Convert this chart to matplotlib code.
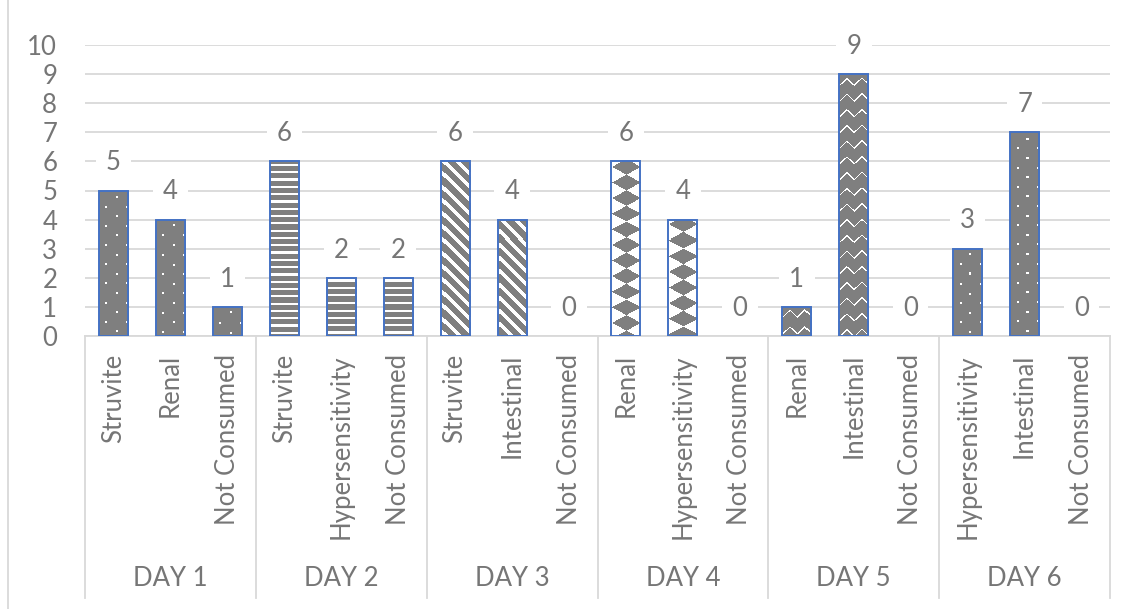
import numpy as np
import matplotlib.pyplot as plt
from matplotlib.transforms import IdentityTransform
from matplotlib.lines import Line2D

# chart data
days = ['DAY 1', 'DAY 2', 'DAY 3', 'DAY 4', 'DAY 5', 'DAY 6']
diets = [['Struvite', 'Renal', 'Not Consumed'],
         ['Struvite', 'Hypersensitivity', 'Not Consumed'],
         ['Struvite', 'Intestinal', 'Not Consumed'],
         ['Renal', 'Hypersensitivity', 'Not Consumed'],
         ['Renal', 'Intestinal', 'Not Consumed'],
         ['Hypersensitivity', 'Intestinal', 'Not Consumed']]
counts = [[5, 4, 1], [6, 2, 2], [6, 4, 0], [6, 4, 0], [1, 9, 0], [3, 7, 0]]
day_patterns = ['dots', 'hlines', 'diag', 'diamond', 'wave', 'dots']

W, H = 1141, 609
FONT = 'Lato'
FS = 18.5
TXT = '#767676'
GRID = '#d9d9d9'
BAR = 127
EDGE = '#4472c4'

plt.rcParams['font.family'] = [FONT, 'DejaVu Sans']


# fill patterns, x/y in pixels from the bar's top-left corner
def pat_dots(x, y):
    u = x - 6
    v = y - 5
    iu = np.floor(u / 9.6)
    iv = np.floor(v / 9.6)
    return ((u - iu * 9.6) < 2) & ((v - iv * 9.6) < 2) & ((iu + iv) % 2 == 1)


def pat_hlines(x, y):
    return ((y - 2) % 7.3) < 2.2


def pat_diag(x, y):
    return ((x - y) % 13.2) < 5


def pat_diamond(x, y):
    p = (x - 14.5) / 14.5
    q = (y - 5) / 7.8
    r1 = (p + q) / 2
    r2 = (p - q) / 2
    return (np.floor(r1 + 0.5) + np.floor(r2 + 0.5)) % 2 == 1


def pat_wave(x, y):
    tri = np.abs(((x / 14.5) % 1) - 0.5) * 2
    d = (y - 3 - 7 * tri) % 15.7
    return d < 1.6


patterns = {'dots': pat_dots, 'hlines': pat_hlines, 'diag': pat_diag,
            'diamond': pat_diamond, 'wave': pat_wave}

labels = [d for grp in diets for d in grp]
values = [v for grp in counts for v in grp]
bar_pat = [day_patterns[g] for g, grp in enumerate(counts) for _ in grp]
xpos = np.arange(len(values))

fig = plt.figure(figsize=(W / 100, H / 100), dpi=100)
ax = fig.add_axes([85 / W, 1 - 336 / H, (1110 - 85) / W, (336 - 45) / H])

bars = ax.bar(xpos, values, width=0.51, color=(BAR / 255,) * 3, linewidth=0, zorder=2)
ax.bar(xpos, values, width=0.51, fill=False, linewidth=1.4, zorder=4,
       edgecolor=[EDGE if v > 0 else 'none' for v in values])
ax.set_xlim(-0.5, len(values) - 0.5)
ax.set_ylim(0, 10)
ax.set_yticks(range(0, 11))
ax.yaxis.grid(True, color=GRID, linewidth=1.3)
ax.set_axisbelow(True)
for s in ['top', 'right', 'left']:
    ax.spines[s].set_visible(False)
ax.spines['bottom'].set_color(GRID)
ax.spines['bottom'].set_linewidth(1.3)
ax.tick_params(axis='y', length=0, pad=20, labelsize=FS, labelcolor=TXT)
ax.set_xticks(xpos)
ax.set_xticklabels(labels, rotation=90)
ax.tick_params(axis='x', length=0, pad=13, labelsize=FS, labelcolor=TXT)

# pattern textures clipped to each bar
for rect, pat, v in zip(bars, bar_pat, values):
    if v <= 0:
        continue
    bb = rect.get_window_extent()
    x0, x1 = int(np.floor(bb.x0)), int(np.ceil(bb.x1))
    y0, y1 = int(np.floor(bb.y0)), int(np.ceil(bb.y1))
    yy, xx = np.mgrid[0:y1 - y0, 0:x1 - x0].astype(float)
    mask = patterns[pat](xx + (x0 - bb.x0), yy + (bb.y1 - y1))
    img = np.full(mask.shape + (3,), BAR, dtype=np.uint8)
    img[mask] = 255
    im = ax.imshow(img, extent=[x0, x1, y0, y1], transform=IdentityTransform(),
                   interpolation='nearest', aspect='auto', zorder=3)
    im.set_clip_path(rect)

ax.set_xlim(-0.5, len(values) - 0.5)
ax.set_ylim(0, 10)

# data labels
for x, v in zip(xpos, values):
    ax.annotate(str(v), (x, v), xytext=(0, 20), textcoords='offset points',
                ha='center', va='center', fontsize=FS, color=TXT, zorder=5,
                bbox=dict(boxstyle='square,pad=0.4', fc='white', ec='none'))

# group separators and day labels
sizes = [len(g) for g in counts]
bounds = np.concatenate([[0], np.cumsum(sizes)]) - 0.5
xt = ax.get_xaxis_transform()
for b in bounds:
    ax.plot([b, b], [0, (336 - 598) / 291], transform=xt, color=GRID,
            linewidth=1.3, clip_on=False)
for g, day in enumerate(days):
    ax.text((bounds[g] + bounds[g + 1]) / 2, (336 - 578) / 291, day, transform=xt,
            ha='center', va='center', fontsize=FS, color=TXT)

fig.add_artist(Line2D([8 / W, 8 / W], [0, 1], color=GRID, linewidth=1.3))

fig.savefig('out.png', dpi=100)
